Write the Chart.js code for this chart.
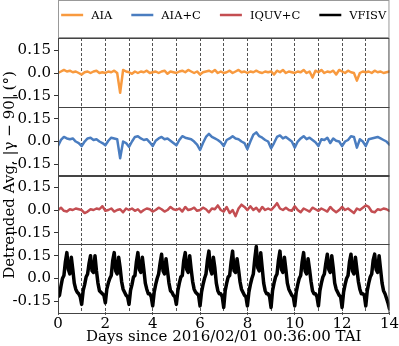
<!DOCTYPE html>
<html>
<head>
<meta charset="utf-8">
<script src="https://cdn.jsdelivr.net/npm/chart.js@4"></script>
<style>
  html, body { margin: 0; padding: 0; background: #fff; }
  canvas { display: block; }
</style>
</head>
<body>
<canvas id="c" width="399" height="346"></canvas>
<script>
// ── data ──
const SERIES_NAMES  = ['AIA', 'AIA+C', 'IQUV+C', 'VFISV']
const SERIES_COLORS = ['#f89a3f', '#4a7dc0', '#c44e52', '#000000']
const X_TICKS = [0, 2, 4, 6, 8, 10, 12, 14]
const Y_TICKS = [-0.15, 0, 0.15]

// 3-hourly samples (8 per day), days 0..14
const AIA = [
  0.00, 0.01, 0.02, 0.01, 0.015, 0.005, 0.01, 0.00,
  -0.01, 0.005, 0.01, 0.00, 0.01, 0.015, 0.00, 0.005,
  0.00, 0.01, 0.005, 0.015, 0.00, -0.13, 0.02, 0.01,
  0.005, -0.005, 0.01, 0.00, 0.01, 0.005, 0.015, 0.00,
  0.005, 0.01, 0.00, 0.01, 0.015, -0.005, 0.01, 0.005,
  0.00, 0.01, 0.015, 0.005, 0.02, 0.01, 0.00, 0.01,
  -0.01, 0.005, 0.01, 0.015, 0.005, 0.02, 0.00, 0.01,
  0.00, 0.005, 0.015, 0.00, 0.01, 0.02, 0.005, 0.01,
  0.00, 0.01, 0.005, 0.015, 0.005, 0.00, 0.01, 0.005,
  0.01, -0.01, 0.015, 0.005, 0.02, 0.00, 0.01, 0.005,
  0.00, 0.01, 0.005, 0.02, 0.00, 0.01, -0.03, 0.015,
  0.005, 0.02, 0.00, 0.01, 0.005, 0.015, -0.01, 0.02,
  0.01, 0.00, 0.015, 0.005, 0.00, -0.05, 0.00, 0.01,
  0.005, 0.01, 0.00, 0.015, 0.005, 0.01, 0.00, 0.005,
  0.01
]
const AIA_C = [
  -0.03, 0.01, 0.03, 0.02, 0.015, 0.02, 0.00, -0.01,
  -0.03, 0.00, 0.02, 0.025, 0.01, 0.015, 0.00, -0.01,
  -0.025, 0.005, 0.025, 0.02, 0.015, -0.11, 0.00, -0.01,
  -0.035, 0.00, 0.03, 0.035, 0.02, 0.01, 0.015, -0.005,
  -0.03, 0.005, 0.02, 0.03, 0.015, 0.02, 0.005, -0.01,
  -0.025, 0.01, 0.035, 0.025, 0.02, 0.015, 0.00, -0.02,
  -0.055, -0.01, 0.03, 0.05, 0.03, 0.02, 0.01, -0.005,
  -0.03, 0.01, 0.02, 0.035, 0.02, 0.015, 0.00, -0.01,
  -0.05, 0.00, 0.045, 0.06, 0.035, 0.025, 0.01, 0.00,
  -0.045, -0.01, 0.03, 0.04, 0.02, 0.03, 0.015, 0.00,
  -0.04, 0.00, 0.02, 0.035, 0.015, 0.025, 0.01, -0.005,
  -0.03, 0.015, 0.01, 0.025, -0.01, 0.02, 0.005, 0.00,
  -0.03, 0.00, 0.01, 0.035, 0.03, -0.04, 0.015, 0.00,
  -0.03, 0.015, 0.02, 0.025, 0.03, 0.02, 0.01, 0.00,
  -0.02
]
const IQUV_C = [
  0.00, 0.015, -0.005, -0.01, 0.005, 0.00, 0.01, 0.005,
  0.00, -0.02, -0.01, 0.005, 0.00, 0.01, 0.005, 0.025,
  -0.005, 0.00, 0.01, -0.01, 0.00, 0.005, -0.015, 0.01,
  0.00, 0.01, -0.005, 0.005, -0.015, 0.00, 0.01, 0.005,
  -0.01, 0.00, 0.015, 0.005, -0.01, 0.00, 0.02, 0.005,
  0.00, 0.01, -0.01, 0.02, 0.00, 0.005, 0.015, -0.005,
  0.00, 0.015, 0.005, -0.015, 0.01, 0.005, 0.03, 0.00,
  -0.01, 0.02, -0.02, 0.00, -0.04, 0.01, 0.035, 0.02,
  0.00, 0.025, 0.00, 0.015, -0.01, 0.02, 0.00, 0.01,
  0.00, 0.02, 0.045, 0.01, 0.00, 0.015, 0.00, -0.005,
  0.025, 0.00, -0.015, 0.01, 0.00, -0.01, 0.015, 0.005,
  -0.005, 0.01, 0.00, -0.01, 0.02, 0.00, -0.015, 0.00,
  0.02, 0.00, 0.01, -0.005, -0.02, 0.01, 0.00, 0.015,
  0.03, 0.02, -0.01, -0.015, 0.005, 0.00, 0.01, 0.005,
  -0.005
]
// 90-minute samples (16 per day), days 0..14
const VFISV = [
  -0.12, -0.11, -0.05, 0.00, 0.02, 0.11, 0.17, 0.06, 0.03, 0.14, 0.06, -0.03, -0.07, -0.09, -0.10, -0.12,
  -0.17, -0.08, -0.04, 0.01, 0.03, 0.10, 0.15, 0.05, 0.04, 0.15, 0.05, -0.03, -0.08, -0.09, -0.10, -0.11,
  -0.16, -0.07, -0.03, 0.00, 0.02, 0.12, 0.17, 0.05, 0.03, 0.14, 0.07, -0.02, -0.07, -0.09, -0.11, -0.12,
  -0.17, -0.08, -0.04, 0.01, 0.02, 0.11, 0.17, 0.06, 0.04, 0.14, 0.06, -0.03, -0.07, -0.10, -0.10, -0.12,
  -0.18, -0.09, -0.04, 0.00, 0.03, 0.10, 0.16, 0.05, 0.03, 0.13, 0.05, -0.03, -0.08, -0.09, -0.11, -0.12,
  -0.17, -0.08, -0.03, 0.01, 0.02, 0.12, 0.17, 0.06, 0.04, 0.15, 0.06, -0.02, -0.07, -0.09, -0.10, -0.11,
  -0.18, -0.09, -0.04, 0.00, 0.03, 0.12, 0.18, 0.06, 0.03, 0.14, 0.07, -0.03, -0.08, -0.10, -0.10, -0.12,
  -0.19, -0.08, -0.03, 0.01, 0.02, 0.11, 0.18, 0.05, 0.04, 0.13, 0.06, -0.02, -0.07, -0.09, -0.11, -0.12,
  -0.18, -0.09, -0.04, 0.00, 0.03, 0.13, 0.21, 0.07, 0.05, 0.17, 0.07, -0.03, -0.08, -0.10, -0.10, -0.12,
  -0.19, -0.08, -0.03, 0.01, 0.03, 0.12, 0.18, 0.06, 0.04, 0.14, 0.06, -0.03, -0.07, -0.09, -0.11, -0.12,
  -0.18, -0.09, -0.04, 0.00, 0.02, 0.11, 0.17, 0.05, 0.03, 0.13, 0.06, -0.02, -0.08, -0.10, -0.10, -0.12,
  -0.18, -0.08, -0.03, 0.01, 0.03, 0.10, 0.16, 0.06, 0.04, 0.15, 0.07, -0.03, -0.07, -0.09, -0.11, -0.12,
  -0.19, -0.09, -0.04, 0.00, 0.02, 0.11, 0.16, 0.05, 0.03, 0.14, 0.06, -0.02, -0.07, -0.10, -0.10, -0.11,
  -0.18, -0.08, -0.03, 0.01, 0.03, 0.12, 0.16, 0.06, 0.04, 0.15, 0.06, -0.03, -0.08, -0.10, -0.13, -0.16,
  -0.20
]

const FONT = 'DejaVu Serif'
const Y_MIN = -0.22, Y_MAX = 0.23

const toPoints = (vals, perDay) => vals.map((y, i) => ({ x: i / perDay, y }))

const panels = [
  { data: toPoints(AIA, 8),    width: 2.5 },
  { data: toPoints(AIA_C, 8),  width: 2.5 },
  { data: toPoints(IQUV_C, 8), width: 2.5 },
  { data: toPoints(VFISV, 16), width: 3.5 },
]

const yScale = (p) => ({
  type: 'linear', position: 'left', stack: 'panels', stackWeight: 1, weight: 4 - p,
  min: Y_MIN, max: Y_MAX,
  afterBuildTicks: s => { s.ticks = Y_TICKS.map(v => ({ value: v })) },
  afterFit: s => { s.width = 58 },
  ticks: { font: { family: FONT, size: 15 }, color: '#000', padding: 3, autoSkip: false,
           callback: v => v === 0 ? '0.0' : v.toFixed(2) },
  grid: { drawOnChartArea: false, drawTicks: true, tickLength: 4, color: '#333' },
  border: { display: true, color: '#333' },
})

// frames round every panel
const panelFrames = {
  id: 'panelFrames',
  afterDatasetsDraw(chart) {
    const { ctx, chartArea: a } = chart
    ctx.save()
    ctx.strokeStyle = '#444'; ctx.lineWidth = 1
    panels.forEach((_, p) => {
      const s = chart.scales['y' + p]
      ctx.strokeRect(a.left + 0.5, Math.round(s.top) + 0.5, a.right - a.left - 1, Math.round(s.bottom - s.top))
    })
    ctx.restore()
  }
}

// boxed legend above the panels + shared y title
const legendBox = {
  id: 'legendBox',
  afterDraw(chart) {
    const { ctx, chartArea: a } = chart
    ctx.save()
    ctx.strokeStyle = '#999'; ctx.lineWidth = 1
    ctx.strokeRect(a.left + 0.5, 0.5, a.right - a.left - 1, 37)

    ctx.font = `11.5px "${FONT}"`
    ctx.textBaseline = 'middle'
    const lineW = 22, gap = 8, pad = 19
    const widths = SERIES_NAMES.map(n => ctx.measureText(n).width)
    const total = widths.reduce((s, w) => s + lineW + gap + w, 0) + pad * (SERIES_NAMES.length - 1)
    let x = (a.left + a.right) / 2 - total / 2
    const y = 15
    SERIES_NAMES.forEach((n, i) => {
      ctx.strokeStyle = SERIES_COLORS[i]; ctx.lineWidth = 2.5
      ctx.beginPath(); ctx.moveTo(x, y); ctx.lineTo(x + lineW, y); ctx.stroke()
      ctx.fillStyle = '#000'
      ctx.fillText(n, x + lineW + gap, y + 1)
      x += lineW + gap + widths[i] + pad
    })

    ctx.translate(10, (a.top + a.bottom) / 2)
    ctx.rotate(-Math.PI / 2)
    ctx.font = `15px "${FONT}"`
    ctx.textAlign = 'center'
    ctx.fillText('Detrended Avg. |γ − 90| (°)', 0, 0)
    ctx.restore()
  }
}

new Chart(document.getElementById('c'), {
  type: 'line',
  data: {
    datasets: panels.map((p, i) => ({
      label: SERIES_NAMES[i], data: p.data, yAxisID: 'y' + i,
      borderColor: SERIES_COLORS[i], backgroundColor: SERIES_COLORS[i],
      borderWidth: p.width, pointRadius: 0, tension: 0, fill: false,
      borderJoinStyle: 'round', borderCapStyle: 'round',
    }))
  },
  options: {
    responsive: false, animation: false, events: [],
    layout: { padding: { top: 38, right: 9, left: 0, bottom: 0 } },
    plugins: { legend: { display: false }, tooltip: { enabled: false } },
    scales: {
      x: {
        type: 'linear', position: 'bottom', min: 0, max: 14,
        afterBuildTicks: s => { s.ticks = Array.from({ length: 15 }, (_, d) => ({ value: d })) },
        afterFit: s => { s.height = 34 },
        ticks: { font: { family: FONT, size: 15 }, color: '#000', padding: 0, maxRotation: 0, autoSkip: false,
                 callback: v => X_TICKS.includes(v) ? String(v) : '' },
        grid: {
          color: c => (c.tick && (c.tick.value === 0 || c.tick.value === 14)) ? 'rgba(0,0,0,0)' : 'rgba(0,0,0,0.85)',
          lineWidth: 0.8, drawTicks: true, tickLength: 3,
          tickColor: c => (c.tick && X_TICKS.includes(c.tick.value)) ? '#333' : 'rgba(0,0,0,0)', tickBorderDash: [],
        },
        border: { display: false, dash: [3, 2] },
        title: { display: true, text: 'Days since 2016/02/01 00:36:00 TAI', color: '#000',
                 font: { family: FONT, size: 15 }, padding: { top: 0, bottom: 0 } },
      },
      y0: yScale(0), y1: yScale(1), y2: yScale(2), y3: yScale(3),
    },
  },
  plugins: [panelFrames, legendBox],
})
</script>
</body>
</html>
